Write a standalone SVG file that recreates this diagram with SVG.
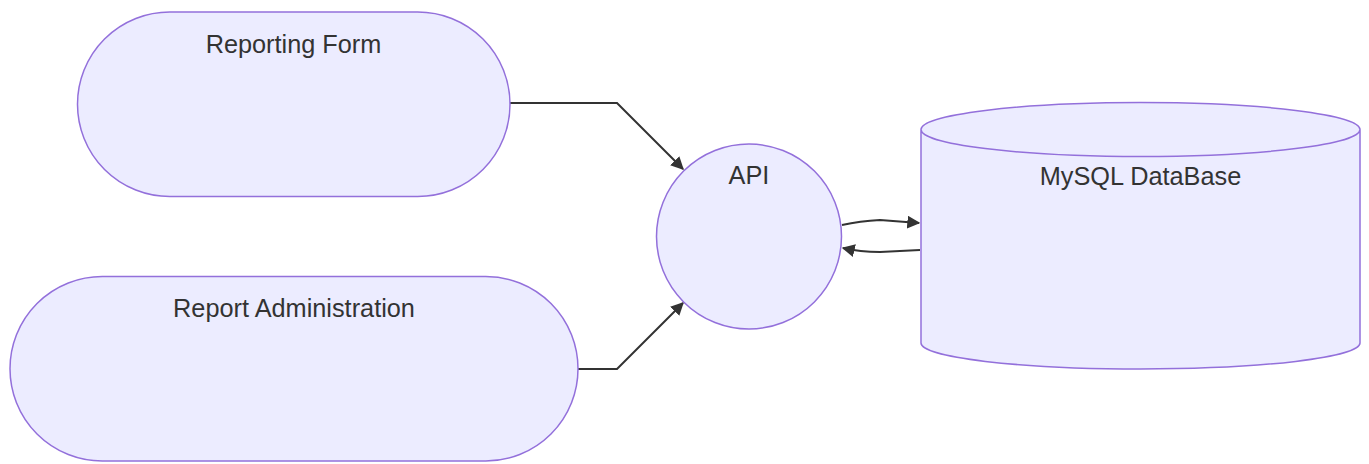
<svg xmlns="http://www.w3.org/2000/svg" width="1369" height="464" viewBox="0 0 1369 464">
<style>
.node{fill:#ECECFF;stroke:#9370DB;stroke-width:1.5}
.lbl{font-family:"Liberation Sans",Arial,sans-serif;font-size:25.3px;fill:#333;text-anchor:middle}
.edge{fill:none;stroke:#333;stroke-width:2}
</style>
<defs>
<marker id="arr" viewBox="0 0 10 10" refX="9" refY="5" markerWidth="13" markerHeight="13" markerUnits="userSpaceOnUse" orient="auto">
<path d="M0,0 L10,5 L0,10 z" fill="#333"/>
</marker>
</defs>
<rect x="0" y="0" width="1369" height="464" fill="#fff"/>
<g id="edges">
<path class="edge" d="M510,103 L617,103 L683,169" marker-end="url(#arr)"/>
<path class="edge" d="M578,369 L617,369 L683,303" marker-end="url(#arr)"/>
<path class="edge" d="M842,225 Q860,221 880,220 L919,223" marker-end="url(#arr)"/>
<path class="edge" d="M920,250 L880,252 Q860,252 843,248" marker-end="url(#arr)"/>
</g>
<g id="node-form">
<rect class="node" x="77.5" y="12" width="432.5" height="184.5" rx="92.25" ry="92.25"/>
<text class="lbl" x="293.5" y="53">Reporting Form</text>
</g>
<g id="node-admin">
<rect class="node" x="10" y="276.5" width="568" height="184.5" rx="92.25" ry="92.25"/>
<text class="lbl" x="294" y="317">Report Administration</text>
</g>
<g id="node-api">
<circle class="node" cx="749" cy="236.5" r="92.5"/>
<text class="lbl" x="749" y="184">API</text>
</g>
<g id="node-db">
<path class="node" d="M921,129.5 a219.5,27 0 0,0 439,0 a219.5,27 0 0,0 -439,0 l0,213.5 a219.5,26 0 0,0 439,0 l0,-213.5"/>
<text class="lbl" x="1140.5" y="185">MySQL DataBase</text>
</g>
</svg>
